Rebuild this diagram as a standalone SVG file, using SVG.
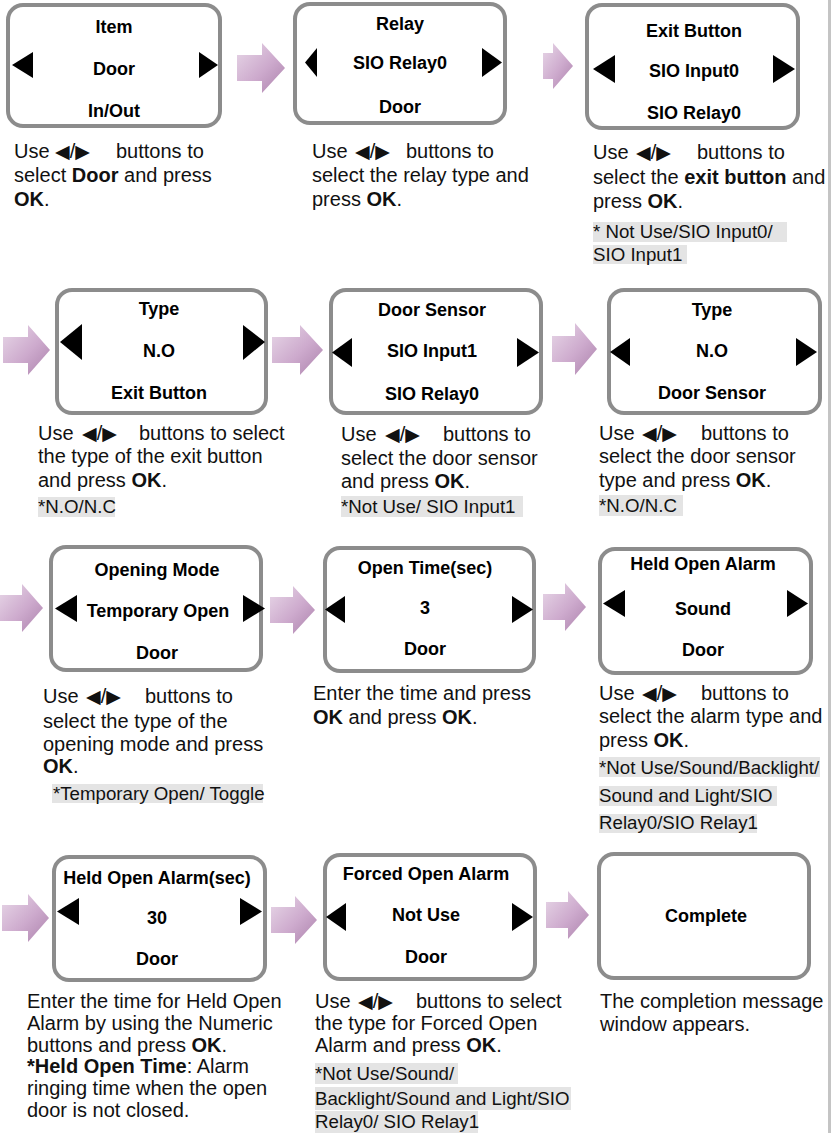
<svg xmlns="http://www.w3.org/2000/svg" width="832" height="1133" viewBox="0 0 832 1133">
  <style>
    .box { fill: #ffffff; stroke: #8c8c8c; stroke-width: 4; }
    .bt { font-family: "Liberation Sans", Arial, sans-serif; font-weight: bold; font-size: 18px; text-anchor: middle; fill: #000; }
    .tri { fill: #000; }
    .cap { font-family: "Liberation Sans", Arial, sans-serif; font-size: 20px; fill: #111; }
    .note { font-family: "Liberation Sans", Arial, sans-serif; font-size: 18.7px; fill: #111; }
    .b { font-weight: bold; }
    .hl { fill: #e4e4e4; }
    .sym { font-family: "DejaVu Sans", sans-serif; font-size: 19px; }
    .arrow { fill: url(#arrowFill); }
  </style>
  <defs>
    <linearGradient id="arrowFill" x1="0" y1="0" x2="1" y2="1">
      <stop offset="0" stop-color="#e8d8e8"/>
      <stop offset="0.55" stop-color="#cdaacd"/>
      <stop offset="1" stop-color="#ac82ac"/>
    </linearGradient>
  </defs>

  <!-- right margin rule -->
  <rect x="828" y="0" width="3" height="1133" fill="#c4c4c4"/>

  <!-- flow arrows -->
  <g id="connectors">
    <path class="arrow" d="M237,55 H262 V43 L285,68 L262,93 V81 H237 Z"/>
    <path class="arrow" d="M543,53 H553 V43 L573,66 L553,89 V79 H543 Z"/>
    <path class="arrow" d="M3,337 H28 V325 L50,350 L28,375 V363 H3 Z"/>
    <path class="arrow" d="M272,337 H300 V325 L323,350 L300,375 V363 H272 Z"/>
    <path class="arrow" d="M552,336 H575 V323 L597,349 L575,375 V362 H552 Z"/>
    <path class="arrow" d="M0,595 H22 V584 L43,608 L22,632 V621 H0 Z"/>
    <path class="arrow" d="M270,597 H293 V586 L315,610 L293,634 V623 H270 Z"/>
    <path class="arrow" d="M543,594 H565 V583 L586,607 L565,631 V620 H543 Z"/>
    <path class="arrow" d="M2,905 H28 V894 L49,918 L28,942 V931 H2 Z"/>
    <path class="arrow" d="M271,907 H295 V896 L317,920 L295,944 V933 H271 Z"/>
    <path class="arrow" d="M546,902 H568 V891 L589,915 L568,939 V928 H546 Z"/>
  </g>

  <!-- Row 1 -->
  <g id="item">
    <rect class="box" x="8" y="5" width="212" height="121" rx="15"/>
    <text class="bt" x="114" y="32.5">Item</text>
    <text class="bt" x="114" y="74.5">Door</text>
    <text class="bt" x="114" y="116.5">In/Out</text>
    <polygon class="tri" points="12,65 33,52 33,78"/>
    <polygon class="tri" points="199,52 218,65 199,78"/>
  </g>
  <g id="relay">
    <rect class="box" x="295" y="4" width="210" height="119" rx="15"/>
    <text class="bt" x="400" y="29.5">Relay</text>
    <text class="bt" x="400" y="68.5">SIO Relay0</text>
    <text class="bt" x="400" y="112.5">Door</text>
    <polygon class="tri" points="305,62.5 317,48 317,77"/>
    <polygon class="tri" points="482,48 502,62.5 482,77"/>
  </g>
  <g id="exit-button">
    <rect class="box" x="587" y="5" width="211" height="123" rx="15"/>
    <text class="bt" x="694" y="36.5">Exit Button</text>
    <text class="bt" x="694" y="76.5">SIO Input0</text>
    <text class="bt" x="694" y="118.5">SIO Relay0</text>
    <polygon class="tri" points="593,69 615,55 615,83"/>
    <polygon class="tri" points="773,55 795,69 773,83"/>
  </g>

  <g id="caption-item">
    <text class="cap" x="14" y="158">Use<tspan class="sym" x="55">◀</tspan>/<tspan class="sym">▶</tspan><tspan x="116">buttons to</tspan></text>
    <text class="cap" x="14" y="182">select <tspan class="b">Door</tspan>  and press</text>
    <text class="cap" x="14" y="206"><tspan class="b">OK</tspan>.</text>
  </g>
  <g id="caption-relay">
    <text class="cap" x="312" y="158">Use<tspan class="sym" x="355">◀</tspan>/<tspan class="sym">▶</tspan><tspan x="406">buttons to</tspan></text>
    <text class="cap" x="312" y="182">select the relay type  and</text>
    <text class="cap" x="312" y="206">press <tspan class="b">OK</tspan>.</text>
  </g>
  <g id="caption-exit-button">
    <text class="cap" x="593" y="159">Use<tspan class="sym" x="636">◀</tspan>/<tspan class="sym">▶</tspan><tspan x="697">buttons to</tspan></text>
    <text class="cap" x="593" y="184">select the <tspan class="b">exit button</tspan> and</text>
    <text class="cap" x="593" y="208">press <tspan class="b">OK</tspan>.</text>
    <rect class="hl" x="593" y="222" width="194" height="20"/>
    <text class="note" x="593" y="238">* Not Use/SIO Input0/</text>
    <rect class="hl" x="593" y="245" width="94" height="19"/>
    <text class="note" x="593" y="261">SIO Input1</text>
  </g>

  <!-- Row 2 -->
  <g id="exit-type">
    <rect class="box" x="57" y="290" width="209" height="123" rx="15"/>
    <text class="bt" x="159" y="314.5">Type</text>
    <text class="bt" x="159" y="356.5">N.O</text>
    <text class="bt" x="159" y="398.5">Exit Button</text>
    <polygon class="tri" points="60,342 82,324 82,360"/>
    <polygon class="tri" points="243,325 265,342 243,360"/>
  </g>
  <g id="door-sensor">
    <rect class="box" x="331" y="290" width="210" height="123" rx="15"/>
    <text class="bt" x="432" y="315.5">Door Sensor</text>
    <text class="bt" x="432" y="356.5">SIO Input1</text>
    <text class="bt" x="432" y="399.5">SIO Relay0</text>
    <polygon class="tri" points="332,352.5 352,338 352,367"/>
    <polygon class="tri" points="517,338 539,352.5 517,367"/>
  </g>
  <g id="sensor-type">
    <rect class="box" x="609" y="290" width="211" height="123" rx="15"/>
    <text class="bt" x="712" y="315.5">Type</text>
    <text class="bt" x="712" y="356.5">N.O</text>
    <text class="bt" x="712" y="398.5">Door Sensor</text>
    <polygon class="tri" points="610,352 630,338 630,366"/>
    <polygon class="tri" points="796,338 817,352 796,366"/>
  </g>

  <g id="caption-exit-type">
    <text class="cap" x="38" y="440">Use<tspan class="sym" x="82">◀</tspan>/<tspan class="sym">▶</tspan><tspan x="139">buttons to select</tspan></text>
    <text class="cap" x="38" y="463">the type of the exit button</text>
    <text class="cap" x="38" y="487">and press <tspan class="b">OK</tspan>.</text>
    <rect class="hl" x="38" y="497" width="77" height="20"/>
    <text class="note" x="38" y="513">*N.O/N.C</text>
  </g>
  <g id="caption-door-sensor">
    <text class="cap" x="341" y="441">Use<tspan class="sym" x="385">◀</tspan>/<tspan class="sym">▶</tspan><tspan x="443">buttons to</tspan></text>
    <text class="cap" x="341" y="465">select the door sensor</text>
    <text class="cap" x="341" y="488">and press <tspan class="b">OK</tspan>.</text>
    <rect class="hl" x="341" y="496" width="182" height="21"/>
    <text class="note" x="341" y="513">*Not Use/ SIO Input1</text>
  </g>
  <g id="caption-sensor-type">
    <text class="cap" x="599" y="440">Use<tspan class="sym" x="642">◀</tspan>/<tspan class="sym">▶</tspan><tspan x="701">buttons to</tspan></text>
    <text class="cap" x="599" y="463">select the door sensor</text>
    <text class="cap" x="599" y="487">type and press <tspan class="b">OK</tspan>.</text>
    <rect class="hl" x="599" y="495" width="84" height="21"/>
    <text class="note" x="599" y="512">*N.O/N.C</text>
  </g>

  <!-- Row 3 -->
  <g id="opening-mode">
    <rect class="box" x="51" y="547" width="210" height="123" rx="15"/>
    <text class="bt" x="157" y="575.5">Opening Mode</text>
    <text class="bt" x="158" y="616.5">Temporary Open</text>
    <text class="bt" x="157" y="658.5">Door</text>
    <polygon class="tri" points="55,608.5 77,595 77,622"/>
    <polygon class="tri" points="243,595 265,608.5 243,622"/>
  </g>
  <g id="open-time">
    <rect class="box" x="325" y="548" width="209" height="123" rx="15"/>
    <text class="bt" x="425" y="573.5">Open Time(sec)</text>
    <text class="bt" x="425" y="613.5">3</text>
    <text class="bt" x="425" y="654.5">Door</text>
    <polygon class="tri" points="325,609.5 345,596 345,623"/>
    <polygon class="tri" points="512,596 533,609.5 512,623"/>
  </g>
  <g id="held-open-alarm">
    <rect class="box" x="600" y="549" width="211" height="124" rx="15"/>
    <text class="bt" x="703" y="569.5">Held Open Alarm</text>
    <text class="bt" x="703" y="614.5">Sound</text>
    <text class="bt" x="703" y="655.5">Door</text>
    <polygon class="tri" points="603,603.5 625,590 625,617"/>
    <polygon class="tri" points="787,590 808,603.5 787,617"/>
  </g>

  <g id="caption-opening-mode">
    <text class="cap" x="43" y="703">Use<tspan class="sym" x="86">◀</tspan>/<tspan class="sym">▶</tspan><tspan x="145">buttons to</tspan></text>
    <text class="cap" x="43" y="728">select the type of the</text>
    <text class="cap" x="43" y="751">opening mode and press</text>
    <text class="cap b" x="43" y="773">OK<tspan font-weight="normal">.</tspan></text>
    <rect class="hl" x="52" y="784" width="211" height="19"/>
    <text class="note" x="53" y="800" font-size="17.6">*Temporary Open/ Toggle</text>
  </g>
  <g id="caption-open-time">
    <text class="cap" x="313" y="700">Enter the time and press</text>
    <text class="cap" x="313" y="724"><tspan class="b">OK</tspan> and press <tspan class="b">OK</tspan>.</text>
  </g>
  <g id="caption-held-open-alarm">
    <text class="cap" x="599" y="700">Use<tspan class="sym" x="642">◀</tspan>/<tspan class="sym">▶</tspan><tspan x="701">buttons to</tspan></text>
    <text class="cap" x="599" y="723">select the alarm type and</text>
    <text class="cap" x="599" y="747">press <tspan class="b">OK</tspan>.</text>
    <rect class="hl" x="599" y="757" width="221" height="20"/>
    <text class="note" x="599" y="774">*Not Use/Sound/Backlight/</text>
    <rect class="hl" x="599" y="786" width="178" height="20"/>
    <text class="note" x="599" y="802">Sound and Light/SIO </text>
    <rect class="hl" x="599" y="814" width="158" height="19"/>
    <text class="note" x="599" y="829">Relay0/SIO Relay1</text>
  </g>

  <!-- Row 4 -->
  <g id="held-open-time">
    <rect class="box" x="54" y="857" width="211" height="123" rx="15"/>
    <text class="bt" x="157" y="883.5">Held Open Alarm(sec)</text>
    <text class="bt" x="157" y="923.5">30</text>
    <text class="bt" x="157" y="964.5">Door</text>
    <polygon class="tri" points="57,911.5 79,898 79,925"/>
    <polygon class="tri" points="240,898 262,911.5 240,925"/>
  </g>
  <g id="forced-open-alarm">
    <rect class="box" x="325" y="855" width="210" height="124" rx="15"/>
    <text class="bt" x="426" y="879.5">Forced Open Alarm</text>
    <text class="bt" x="426" y="920.5">Not Use</text>
    <text class="bt" x="426" y="962.5">Door</text>
    <polygon class="tri" points="326,917 346,903 346,931"/>
    <polygon class="tri" points="512,903 533,917 512,931"/>
  </g>
  <g id="complete">
    <rect class="box" x="599" y="854" width="210" height="124" rx="15"/>
    <text class="bt" x="706" y="921.5">Complete</text>
  </g>

  <g id="caption-held-open-time">
    <text class="cap" x="27" y="1008">Enter the time for Held Open</text>
    <text class="cap" x="27" y="1030">Alarm by using the Numeric</text>
    <text class="cap" x="27" y="1052">buttons and press <tspan class="b">OK</tspan>.</text>
    <text class="cap" x="27" y="1073"><tspan class="b">*Held Open Time</tspan>: Alarm</text>
    <text class="cap" x="27" y="1095">ringing time when the open</text>
    <text class="cap" x="27" y="1117">door is not closed.</text>
  </g>
  <g id="caption-forced-open-alarm">
    <text class="cap" x="315" y="1008">Use<tspan class="sym" x="358">◀</tspan>/<tspan class="sym">▶</tspan><tspan x="416">buttons to select</tspan></text>
    <text class="cap" x="315" y="1030">the type for Forced Open</text>
    <text class="cap" x="315" y="1052">Alarm and press <tspan class="b">OK</tspan>.</text>
    <rect class="hl" x="315" y="1063" width="143" height="21"/>
    <text class="note" x="315" y="1080">*Not Use/Sound/ </text>
    <rect class="hl" x="315" y="1087" width="256" height="23"/>
    <text class="note" x="315" y="1105">Backlight/Sound and Light/SIO</text>
    <rect class="hl" x="315" y="1111" width="163" height="22"/>
    <text class="note" x="315" y="1128">Relay0/ SIO Relay1</text>
  </g>
  <g id="caption-complete">
    <text class="cap" x="600" y="1008">The completion message</text>
    <text class="cap" x="600" y="1031">window appears.</text>
  </g>
</svg>
